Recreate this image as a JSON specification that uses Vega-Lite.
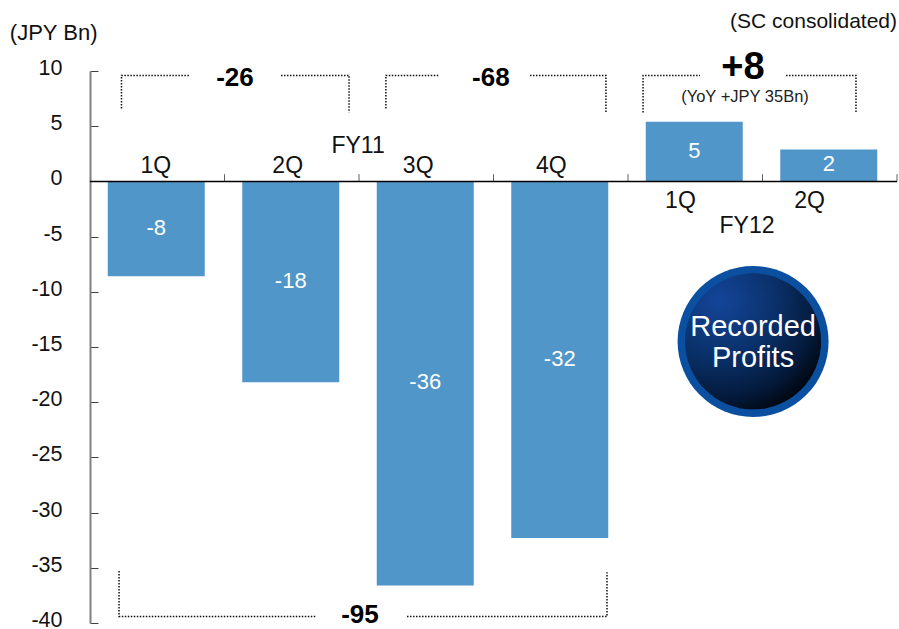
{
  "$schema": "https://vega.github.io/schema/vega-lite/v6.json",
  "autosize": {"type": "none"},
  "width": 807,
  "height": 552,
  "padding": {"left": 90, "top": 71, "right": 2, "bottom": 6},
  "background": "white",
  "config": {"view": {"stroke": null}, "text": {"font": "Liberation Sans"}},
  "datasets": {
    "quarters": [
      {"quarter": "FY11 1Q", "value": -8.6},
      {"quarter": "FY11 2Q", "value": -18.2},
      {"quarter": "FY11 3Q", "value": -36.6},
      {"quarter": "FY11 4Q", "value": -32.3},
      {"quarter": "FY12 1Q", "value": 5.4},
      {"quarter": "FY12 2Q", "value": 2.9}
    ]
  },
  "resolve": {"scale": {"x": "independent"}},
  "layer": [
    {
      "data": {"name": "quarters"},
      "mark": {"type": "bar", "color": "#5096c8", "width": 97},
      "encoding": {
        "x": {"field": "quarter", "type": "nominal", "sort": null, "axis": null, "scale": {"type": "band", "range": [-1, 806]}},
        "y": {"field": "value", "type": "quantitative", "title": null, "scale": {"domain": [-40, 10], "nice": false},
          "axis": {"values": [10, 5, 0, -5, -10, -15, -20, -25, -30, -35, -40], "grid": false, "domainColor": "#808080", "domainWidth": 2, "tickColor": "#404040", "tickSize": -8, "labelFont": "Liberation Sans", "labelFontSize": 21.5, "labelColor": "#111111", "labelPadding": 36, "labelOffset": -2.5, "labelExpr": "replace(datum.label, '\u2212', '-')"}}
      }
    },
    {
      "data": {"values": [{"b": 1}, {"b": 2}, {"b": 3}, {"b": 4}, {"b": 5}, {"b": 6}]},
      "mark": {"type": "rule", "color": "#606060", "strokeWidth": 1},
      "encoding": {
        "x": {"field": "b", "type": "quantitative", "axis": null, "scale": {"domain": [0, 6], "nice": false}},
        "y": {"datum": 0, "type": "quantitative", "scale": {"domain": [-40, 10], "nice": false}},
        "y2": {"datum": 0.65}
      }
    },
    {
      "data": {"values": [{"zero": 0}]},
      "mark": {"type": "rule", "color": "#000000", "strokeWidth": 1.5},
      "encoding": {
        "y": {"field": "zero", "type": "quantitative", "scale": {"domain": [-40, 10], "nice": false}}
      }
    },
    {
      "data": {"values": [
        {"seg": "a1", "x": 0.234, "y": 6.6}, {"seg": "a1", "x": 0.234, "y": 9.6}, {"seg": "a1", "x": 0.743, "y": 9.6},
        {"seg": "a2", "x": 1.42, "y": 9.6}, {"seg": "a2", "x": 1.926, "y": 9.6}, {"seg": "a2", "x": 1.926, "y": 6.25},
        {"seg": "b1", "x": 2.2, "y": 6.6}, {"seg": "b1", "x": 2.2, "y": 9.6}, {"seg": "b1", "x": 2.595, "y": 9.6},
        {"seg": "b2", "x": 3.271, "y": 9.6}, {"seg": "b2", "x": 3.836, "y": 9.6}, {"seg": "b2", "x": 3.836, "y": 6.25},
        {"seg": "c1", "x": 4.112, "y": 6.25}, {"seg": "c1", "x": 4.112, "y": 9.6}, {"seg": "c1", "x": 4.535, "y": 9.6},
        {"seg": "c2", "x": 5.175, "y": 9.6}, {"seg": "c2", "x": 5.695, "y": 9.6}, {"seg": "c2", "x": 5.695, "y": 6.25},
        {"seg": "d1", "x": 0.216, "y": -35.3}, {"seg": "d1", "x": 0.216, "y": -39.4}, {"seg": "d1", "x": 1.68, "y": -39.4},
        {"seg": "d2", "x": 2.357, "y": -39.4}, {"seg": "d2", "x": 3.844, "y": -39.4}, {"seg": "d2", "x": 3.844, "y": -35.4}
      ]},
      "mark": {"type": "line", "color": "#111111", "strokeWidth": 1.5, "strokeDash": [1.5, 1.5]},
      "encoding": {
        "x": {"field": "x", "type": "quantitative", "axis": null, "scale": {"domain": [0, 6], "nice": false}},
        "y": {"field": "y", "type": "quantitative", "scale": {"domain": [-40, 10], "nice": false}},
        "detail": {"field": "seg"},
        "order": {"field": "order"}
      }
    },
    {
      "data": {"values": [{"x": 4.93, "y": -14.5}]},
      "mark": {"type": "point", "shape": "circle", "filled": true, "opacity": 1, "size": 22801, "color": "#0b4fa0"},
      "encoding": {
        "x": {"field": "x", "type": "quantitative", "axis": null, "scale": {"domain": [0, 6], "nice": false}},
        "y": {"field": "y", "type": "quantitative", "scale": {"domain": [-40, 10], "nice": false}}
      }
    },
    {
      "data": {"values": [{"x": 4.93, "y": -14.5}]},
      "mark": {"type": "point", "shape": "circle", "filled": true, "opacity": 1, "size": 18496,
        "fill": {"gradient": "radial", "x1": 0.25, "y1": 0.2, "r1": 0, "x2": 0.25, "y2": 0.2, "r2": 0.95,
          "stops": [{"offset": 0, "color": "#14459a"}, {"offset": 0.45, "color": "#0a3068"}, {"offset": 0.75, "color": "#041a3c"}, {"offset": 1, "color": "#000000"}]}},
      "encoding": {
        "x": {"field": "x", "type": "quantitative", "axis": null, "scale": {"domain": [0, 6], "nice": false}},
        "y": {"field": "y", "type": "quantitative", "scale": {"domain": [-40, 10], "nice": false}}
      }
    },
    {
      "data": {"name": "quarters"},
      "transform": [
        {"calculate": "datum.value / 2", "as": "mid"},
        {"calculate": "datum.value < 0 ? ceil(datum.value) : floor(datum.value)", "as": "shown"}
      ],
      "mark": {"type": "text", "color": "white", "fontSize": 22, "baseline": "middle", "dy": -1},
      "encoding": {
        "x": {"field": "quarter", "type": "nominal", "sort": null, "axis": null, "scale": {"type": "band", "range": [-1, 806]}},
        "y": {"field": "mid", "type": "quantitative", "scale": {"domain": [-40, 10], "nice": false}},
        "text": {"field": "shown", "type": "nominal"}
      }
    },
    {
      "data": {"values": [
        {"t": "1Q", "x": 0.49, "y": 1.45}, {"t": "2Q", "x": 1.47, "y": 1.45}, {"t": "3Q", "x": 2.44, "y": 1.45}, {"t": "4Q", "x": 3.43, "y": 1.45},
        {"t": "1Q", "x": 4.39, "y": -1.72}, {"t": "2Q", "x": 5.35, "y": -1.72},
        {"t": "FY11", "x": 1.993, "y": 3.26}, {"t": "FY12", "x": 4.885, "y": -3.98}
      ]},
      "mark": {"type": "text", "color": "#111111", "fontSize": 23, "baseline": "middle", "dy": 1},
      "encoding": {
        "x": {"field": "x", "type": "quantitative", "axis": null, "scale": {"domain": [0, 6], "nice": false}},
        "y": {"field": "y", "type": "quantitative", "scale": {"domain": [-40, 10], "nice": false}},
        "text": {"field": "t"}
      }
    },
    {
      "data": {"values": [{"t": "-26", "x": 1.078, "y": 9.4}, {"t": "-68", "x": 2.98, "y": 9.4}, {"t": "-95", "x": 2.007, "y": -39.3}]},
      "mark": {"type": "text", "color": "#000000", "fontSize": 26, "fontWeight": "bold", "baseline": "middle"},
      "encoding": {
        "x": {"field": "x", "type": "quantitative", "axis": null, "scale": {"domain": [0, 6], "nice": false}},
        "y": {"field": "y", "type": "quantitative", "scale": {"domain": [-40, 10], "nice": false}},
        "text": {"field": "t"}
      }
    },
    {
      "data": {"values": [{"t": "+8", "x": 4.855, "y": 10.3}]},
      "mark": {"type": "text", "color": "#000000", "fontSize": 38, "fontWeight": "bold", "baseline": "middle"},
      "encoding": {
        "x": {"field": "x", "type": "quantitative", "axis": null, "scale": {"domain": [0, 6], "nice": false}},
        "y": {"field": "y", "type": "quantitative", "scale": {"domain": [-40, 10], "nice": false}},
        "text": {"field": "t"}
      }
    },
    {
      "data": {"values": [{"t": "(YoY +JPY 35Bn)", "x": 4.87, "y": 7.6}]},
      "mark": {"type": "text", "color": "#222222", "fontSize": 16.5, "baseline": "middle"},
      "encoding": {
        "x": {"field": "x", "type": "quantitative", "axis": null, "scale": {"domain": [0, 6], "nice": false}},
        "y": {"field": "y", "type": "quantitative", "scale": {"domain": [-40, 10], "nice": false}},
        "text": {"field": "t"}
      }
    },
    {
      "data": {"values": [{"t": "Recorded", "x": 4.93, "y": -13.1}, {"t": "Profits", "x": 4.93, "y": -15.9}]},
      "mark": {"type": "text", "color": "white", "fontSize": 29, "baseline": "middle", "dy": 1},
      "encoding": {
        "x": {"field": "x", "type": "quantitative", "axis": null, "scale": {"domain": [0, 6], "nice": false}},
        "y": {"field": "y", "type": "quantitative", "scale": {"domain": [-40, 10], "nice": false}},
        "text": {"field": "t"}
      }
    },
    {
      "data": {"values": [{"t": "(JPY Bn)", "x": -0.27, "y": 13.5}]},
      "mark": {"type": "text", "color": "#111111", "fontSize": 22, "baseline": "middle", "dy": 1},
      "encoding": {
        "x": {"field": "x", "type": "quantitative", "axis": null, "scale": {"domain": [0, 6], "nice": false}},
        "y": {"field": "y", "type": "quantitative", "scale": {"domain": [-40, 10], "nice": false}},
        "text": {"field": "t"}
      }
    },
    {
      "data": {"values": [{"t": "(SC consolidated)", "x": 6, "y": 14.57}]},
      "mark": {"type": "text", "color": "#111111", "fontSize": 21, "baseline": "middle", "align": "right", "dy": 1},
      "encoding": {
        "x": {"field": "x", "type": "quantitative", "axis": null, "scale": {"domain": [0, 6], "nice": false}},
        "y": {"field": "y", "type": "quantitative", "scale": {"domain": [-40, 10], "nice": false}},
        "text": {"field": "t"}
      }
    }
  ]
}
